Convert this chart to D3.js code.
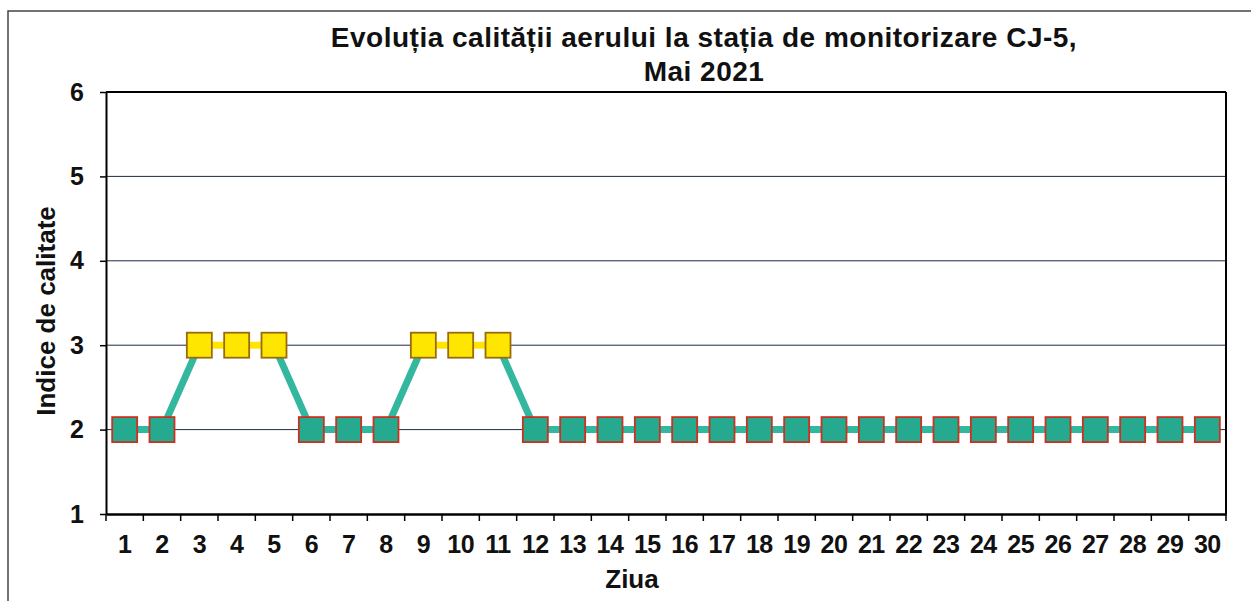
<!DOCTYPE html>
<html>
<head>
<meta charset="utf-8">
<script src="https://cdn.jsdelivr.net/npm/d3@7"></script>
<style>
    body { margin: 0; background: #fff; }
    text { font-family: Arial, "Liberation Sans", sans-serif; font-weight: bold; fill: #111; }
    .grid line { stroke: #1d2a44; stroke-width: 1; }
</style>
</head>
<body>
<svg id="chart" width="1251" height="601"></svg>
<script>
// date din grafic
var days = d3.range(1, 31).map(String);
var indexValues = [2, 2, 3, 3, 3, 2, 2, 2, 3, 3, 3, 2, 2, 2, 2, 2, 2, 2, 2, 2, 2, 2, 2, 2, 2, 2, 2, 2, 2, 2];
var yTicks = [1, 2, 3, 4, 5, 6];
var titleLines = ["Evoluția calității aerului la stația de monitorizare CJ-5,", "Mai 2021"];

var svg = d3.select("#chart"),
    margin = {top: 92, right: 25, bottom: 87, left: 106},
    width = svg.attr("width") - margin.left - margin.right,
    height = svg.attr("height") - margin.top - margin.bottom;

// chenarul exterior
svg.append("rect")
    .attr("x", 8)
    .attr("y", 11)
    .attr("width", 1260)
    .attr("height", 620)
    .attr("fill", "none")
    .attr("stroke", "#444")
    .attr("stroke-width", 1.5);

var g = svg.append("g").attr("transform", "translate(" + margin.left + "," + margin.top + ")");

var x = d3.scaleBand()
    .domain(days)
    .range([0, width]);

var y = d3.scaleLinear()
    .domain([1, 6])
    .range([height, 0]);

function colorOf(v) {
    return v >= 3 ? "#ffe600" : "#25a98f";
}

// linii de grila
g.append("g")
    .attr("class", "grid")
    .selectAll("line")
    .data(yTicks.slice(1))
    .enter()
    .append("line")
    .attr("x1", 0)
    .attr("x2", width)
    .attr("y1", function (d) { return y(d); })
    .attr("y2", function (d) { return y(d); });

// axa x
var xAxis = g.append("g")
    .attr("transform", "translate(0," + height + ")")
    .call(d3.axisBottom(x).tickSize(0).tickPadding(21));
xAxis.select(".domain").attr("stroke", "#000").attr("stroke-width", 2.5);
xAxis.selectAll("text").style("font-size", "25px").attr("letter-spacing", "-0.5");

// semne intre zile
xAxis.selectAll(".sep")
    .data(days.concat(["end"]))
    .enter()
    .append("line")
    .attr("x1", function (d, i) { return i * x.bandwidth(); })
    .attr("x2", function (d, i) { return i * x.bandwidth(); })
    .attr("y1", 0)
    .attr("y2", 7)
    .attr("stroke", "#000")
    .attr("stroke-width", 1.5);

// axa y
var yAxis = g.append("g")
    .call(d3.axisLeft(y).tickValues(yTicks).tickFormat(d3.format("d"))
        .tickSizeInner(6).tickSizeOuter(0).tickPadding(16));
yAxis.select(".domain").attr("stroke", "#000").attr("stroke-width", 2);
yAxis.selectAll(".tick line").attr("stroke", "#000").attr("stroke-width", 1.5);
yAxis.selectAll("text").style("font-size", "25px");

// marginea dreapta si sus
g.append("line")
    .attr("x1", width).attr("x2", width)
    .attr("y1", 0).attr("y2", height)
    .attr("stroke", "#000").attr("stroke-width", 2);
g.append("line")
    .attr("x1", 0).attr("x2", width)
    .attr("y1", 0).attr("y2", 0)
    .attr("stroke", "#000").attr("stroke-width", 2);

// segmentele liniei
var points = indexValues.map(function (v, i) {
    return {day: days[i], value: v};
});
var segments = d3.pairs(points);

g.append("g")
    .selectAll("line")
    .data(segments)
    .enter()
    .append("line")
    .attr("x1", function (d) { return x(d[0].day) + x.bandwidth() / 2; })
    .attr("y1", function (d) { return y(d[0].value); })
    .attr("x2", function (d) { return x(d[1].day) + x.bandwidth() / 2; })
    .attr("y2", function (d) { return y(d[1].value); })
    .attr("stroke", function (d) {
        return (d[0].value >= 3 && d[1].value >= 3) ? "#ffe600" : "#33b89f";
    })
    .attr("stroke-width", 7);

// markerele patrate
var size = 25;
g.append("g")
    .selectAll("rect")
    .data(points)
    .enter()
    .append("rect")
    .attr("x", function (d) { return x(d.day) + x.bandwidth() / 2 - size / 2; })
    .attr("y", function (d) { return y(d.value) - size / 2; })
    .attr("width", size)
    .attr("height", size)
    .attr("fill", function (d) { return colorOf(d.value); })
    .attr("stroke", function (d) { return d.value >= 3 ? "#9a6a10" : "#c8321f"; })
    .attr("stroke-width", 1.8);

// titlu, doua randuri
svg.selectAll(".title")
    .data(titleLines)
    .enter()
    .append("text")
    .attr("class", "title")
    .attr("text-anchor", "middle")
    .attr("x", 704)
    .attr("y", function (d, i) { return 47 + i * 34; })
    .style("font-size", "28px")
    .attr("letter-spacing", "0.5")
    .text(function (d) { return d; });

// titlurile axelor
svg.append("text")
    .attr("text-anchor", "middle")
    .attr("x", 632)
    .attr("y", 588)
    .style("font-size", "26px")
    .text("Ziua");

svg.append("text")
    .attr("text-anchor", "middle")
    .attr("transform", "translate(55,311) rotate(-90)")
    .style("font-size", "26px")
    .text("Indice de calitate");
</script>
</body>
</html>
